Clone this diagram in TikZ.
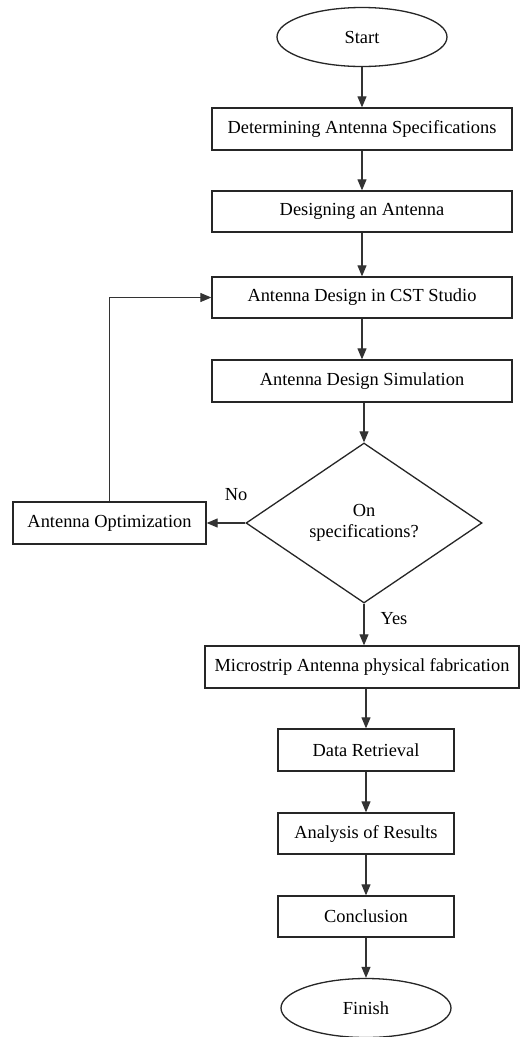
\documentclass[tikz,border=0pt]{standalone}
\usepackage{fontspec}
\setmainfont{Liberation Serif}
\usetikzlibrary{shapes.geometric,arrows.meta}
\begin{document}
\begin{tikzpicture}[x=1pt,y=-1pt,
  every node/.style={font=\fontsize{18.4}{21}\selectfont, inner sep=0pt},
  proc/.style={draw=black!85, line width=1.3pt, rectangle, minimum height=42pt},
  term/.style={draw=black!85, line width=1.3pt, ellipse, minimum width=170pt, minimum height=59pt},
  cond/.style={draw=black!85, line width=1.3pt, diamond, aspect=1.475, minimum width=236pt, minimum height=160pt, align=center},
  arr/.style={draw=black!80, line width=1.1pt, -{Triangle[length=11pt,width=9pt]}},
  lbl/.style={}
]
\useasboundingbox (0,0) rectangle (520,1037);
\fill[white] (0,0) rectangle (520,1037);

% main column
\node[term] (start) at (362,37) {Start};
\node[proc, minimum width=300pt] (spec) at (362,129) {Determining Antenna Specifications};
\node[proc, minimum width=300pt, minimum height=41pt] (design) at (362,211.5) {Designing an Antenna};
\node[proc, minimum width=300pt, minimum height=41pt] (cst) at (362,297.5) {Antenna Design in CST Studio};
\node[proc, minimum width=300pt] (sim) at (362,381) {Antenna Design Simulation};
\node[cond] (dec) at (364,523) {On\\specifications?};
\node[proc, minimum width=193pt] (opt) at (109.5,523) {Antenna Optimization};
\node[proc, minimum width=314pt] (micro) at (362,667) {Microstrip Antenna physical fabrication};
\node[proc, minimum width=176pt] (data) at (366,750) {Data Retrieval};
\node[proc, minimum width=176pt, minimum height=41pt] (ana) at (366,833.5) {Analysis of Results};
\node[proc, minimum width=176pt, minimum height=41pt] (concl) at (366,916.5) {Conclusion};
\node[term] (finish) at (366,1008) {Finish};

% branch labels
\node[lbl] (no) at (236,495) {No};
\node[lbl] (yes) at (394,619) {Yes};

% connectors
\draw[arr] (start) -- (spec);
\draw[arr] (spec) -- (design);
\draw[arr] (design) -- (cst);
\draw[arr] (cst) -- (sim);
\draw[arr] (sim.south -| dec.north) -- (dec.north);
\draw[arr] (dec.west) -- (opt.east);
\draw[arr] (opt.north) |- (cst.west);
\draw[arr] (dec.south) -- (dec.south |- micro.north);
\draw[arr] (micro.south -| data.north) -- (data.north);
\draw[arr] (data) -- (ana);
\draw[arr] (ana) -- (concl);
\draw[arr] (concl) -- (finish);
\end{tikzpicture}
\end{document}
